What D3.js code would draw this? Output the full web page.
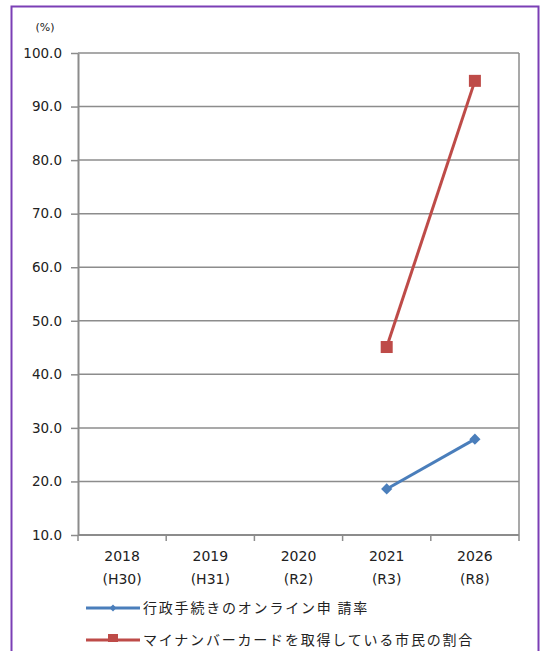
<!DOCTYPE html>
<html>
<head>
<meta charset="utf-8">
<script src="https://cdn.jsdelivr.net/npm/d3@7"></script>
<style>
  body { margin: 0; background: #fff; }
  svg { display: block; font-family: "Noto Sans CJK JP", "DejaVu Sans", sans-serif; }
</style>
</head>
<body>
<script>
// Data
var years = ["2018", "2019", "2020", "2021", "2026"];
var eras = ["(H30)", "(H31)", "(R2)", "(R3)", "(R8)"];
var yTicks = [10, 20, 30, 40, 50, 60, 70, 80, 90, 100];
var onlineRate = [null, null, null, 18.6, 27.9];
var cardRate = [null, null, null, 45.1, 94.8];
var seriesNames = ["行政手続きのオンライン申 請率", "マイナンバーカードを取得している市民の割合"];

var W = 542, H = 651;
var margin = {top: 53, right: 23, bottom: 116, left: 78},
    width = W - margin.left - margin.right,
    height = H - margin.top - margin.bottom;

var svg = d3.select("body").append("svg")
    .attr("width", W)
    .attr("height", H);

// outer purple frame
svg.append("rect")
    .attr("x", 11.5).attr("y", 6.5)
    .attr("width", 527).attr("height", 660)
    .attr("fill", "none")
    .attr("stroke", "#7b3fb5")
    .attr("stroke-width", 2);

var g = svg.append("g")
    .attr("transform", "translate(" + margin.left + "," + margin.top + ")");

var x = d3.scaleBand().domain(years).range([0, width]);
var y = d3.scaleLinear().domain([10, 100]).range([height, 0]);

// gridlines
g.selectAll(".grid")
  .data(yTicks.slice(1))
  .enter().append("line")
    .attr("x1", 0).attr("x2", width)
    .attr("y1", function(d) { return y(d); })
    .attr("y2", function(d) { return y(d); })
    .attr("stroke", "#8c8c8c")
    .attr("stroke-width", 1.5);

// right border of plot
g.append("line")
    .attr("x1", width).attr("x2", width)
    .attr("y1", 0).attr("y2", height)
    .attr("stroke", "#8c8c8c").attr("stroke-width", 1.5);

// y axis
var yAxis = g.append("g")
    .call(d3.axisLeft(y).tickValues(yTicks).tickFormat(d3.format(".1f")).tickSize(7).tickSizeOuter(0));
yAxis.select(".domain").attr("stroke", "#8c8c8c").attr("stroke-width", 2);
yAxis.selectAll(".tick line").attr("stroke", "#8c8c8c").attr("stroke-width", 1.5);
yAxis.selectAll(".tick text")
    .attr("x", -16)
    .attr("fill", "#222")
    .style("font-family", "DejaVu Sans, sans-serif")
    .style("font-size", "13.5px");

// x axis with ticks between categories
var xAxis = g.append("g")
    .attr("transform", "translate(0," + height + ")");
xAxis.append("line")
    .attr("x1", 0).attr("x2", width)
    .attr("stroke", "#8c8c8c").attr("stroke-width", 2);
xAxis.selectAll(".xt")
  .data(d3.range(years.length + 1))
  .enter().append("line")
    .attr("x1", function(i) { return i * x.bandwidth(); })
    .attr("x2", function(i) { return i * x.bandwidth(); })
    .attr("y1", 0).attr("y2", 6)
    .attr("stroke", "#8c8c8c").attr("stroke-width", 1.5);

var labels = xAxis.selectAll(".xl")
  .data(years)
  .enter().append("text")
    .attr("text-anchor", "middle")
    .attr("fill", "#222")
    .style("font-family", "DejaVu Sans, sans-serif")
    .style("font-size", "14px");
labels.append("tspan")
    .attr("x", function(d) { return x(d) + x.bandwidth() / 2; })
    .attr("y", 26)
    .text(function(d) { return d; });
labels.append("tspan")
    .attr("x", function(d) { return x(d) + x.bandwidth() / 2; })
    .attr("y", 49)
    .text(function(d, i) { return eras[i]; });

// unit label
svg.append("text")
    .attr("x", 45).attr("y", 31)
    .attr("text-anchor", "middle")
    .attr("fill", "#222")
    .style("font-family", "DejaVu Sans, sans-serif")
    .style("font-size", "11px")
    .text("(%)");

var line = d3.line()
    .defined(function(d) { return d.v != null; })
    .x(function(d) { return x(d.year) + x.bandwidth() / 2; })
    .y(function(d) { return y(d.v); });

function toPoints(values) {
  return years.map(function(yr, i) { return {year: yr, v: values[i]}; });
}

var blue = "#4a7ebb", red = "#be4b48";

// card rate (red, squares)
var cardPts = toPoints(cardRate);
g.append("path")
    .datum(cardPts)
    .attr("d", line)
    .attr("fill", "none")
    .attr("stroke", red)
    .attr("stroke-width", 3);
g.selectAll(".sq")
  .data(cardPts.filter(function(d) { return d.v != null; }))
  .enter().append("rect")
    .attr("x", function(d) { return x(d.year) + x.bandwidth() / 2 - 6; })
    .attr("y", function(d) { return y(d.v) - 6; })
    .attr("width", 12).attr("height", 12)
    .attr("fill", red);

// online rate (blue, diamonds)
var onlinePts = toPoints(onlineRate);
g.append("path")
    .datum(onlinePts)
    .attr("d", line)
    .attr("fill", "none")
    .attr("stroke", blue)
    .attr("stroke-width", 3);
g.selectAll(".dm")
  .data(onlinePts.filter(function(d) { return d.v != null; }))
  .enter().append("path")
    .attr("d", d3.symbol().type(d3.symbolDiamond2).size(80))
    .attr("transform", function(d) {
      return "translate(" + (x(d.year) + x.bandwidth() / 2) + "," + y(d.v) + ")";
    })
    .attr("fill", blue);

// legend
var legend = svg.append("g");
var legY = [608, 640];
var legColors = [blue, red];
legend.selectAll("line")
  .data(seriesNames)
  .enter().append("line")
    .attr("x1", 86).attr("x2", 140)
    .attr("y1", function(d, i) { return legY[i]; })
    .attr("y2", function(d, i) { return legY[i]; })
    .attr("stroke", function(d, i) { return legColors[i]; })
    .attr("stroke-width", 3);
legend.append("path")
    .attr("d", d3.symbol().type(d3.symbolDiamond2).size(30))
    .attr("transform", "translate(113," + legY[0] + ")")
    .attr("fill", blue);
legend.append("rect")
    .attr("x", 108).attr("y", legY[1] - 6)
    .attr("width", 10).attr("height", 8)
    .attr("fill", red);
legend.selectAll("text")
  .data(seriesNames)
  .enter().append("text")
    .attr("x", 143)
    .attr("y", function(d, i) { return legY[i] + 5; })
    .attr("fill", "#222")
    .style("font-size", "14px")
    .style("letter-spacing", "1.8px")
    .text(function(d) { return d; });
</script>
</body>
</html>
